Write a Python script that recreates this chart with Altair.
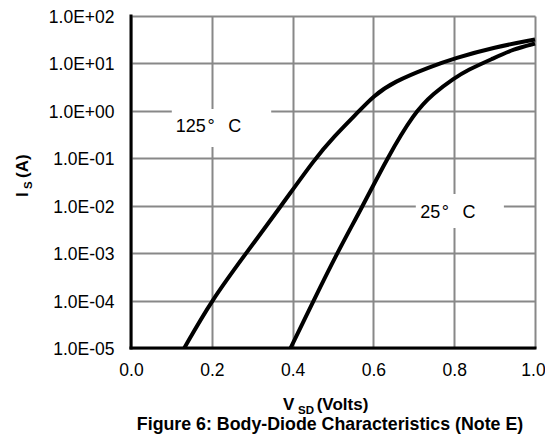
import altair as alt
import pandas as pd

# ---- data ----
v_125 = [0.132, 0.199, 0.285, 0.372, 0.456, 0.502, 0.56, 0.60, 0.65, 0.741, 0.80, 0.90, 1.00]
i_125 = [1e-5, 1e-4, 1e-3, 1e-2, 1e-1, 0.285, 0.9, 2.06, 4.1, 8.5, 12.8, 22.0, 32.0]
v_25 = [0.395, 0.452, 0.51, 0.574, 0.634, 0.70, 0.749, 0.80, 0.832, 0.898, 0.947, 1.00]
i_25 = [1e-5, 1e-4, 1e-3, 1e-2, 1e-1, 0.89, 2.35, 4.85, 7.2, 12.9, 20.0, 26.3]

x_ticks = [0.0, 0.2, 0.4, 0.6, 0.8, 1.0]
y_ticks = [1e-5, 1e-4, 1e-3, 1e-2, 1e-1, 1e0, 1e1, 1e2]

label_text = ["125\u200a°\u00a0\u00a0\u2009C", "25\u200a°\u00a0\u00a0\u2009C"]
label_x = [0.111, 0.716]
label_y = [0.364, 0.00543]
box_x = [0.101, 0.705]
box_x2 = [0.347, 0.923]
box_y = [0.173, 0.00339]
box_y2 = [1.09, 0.01766]

FONT = "Liberation Sans"

curves = pd.DataFrame({
    "v": v_125 + v_25,
    "i": i_125 + i_25,
    "s": ["125"] * len(v_125) + ["25"] * len(v_25),
})
labels = pd.DataFrame({"t": label_text, "x": label_x, "y": label_y,
                       "bx": box_x, "bx2": box_x2, "by": box_y, "by2": box_y2})
one = pd.DataFrame({"a": [0]})

xscale = alt.Scale(domain=[0, 1], nice=False, zero=False)
yscale = alt.Scale(type="log", domain=[1e-5, 100], nice=False)

exp = "round(log(datum.value)/LN10)"
ylabel = ("'1.0E' + (" + exp + " >= 0 ? '+' : '-') + (abs(" + exp + ") < 10 ? '0' : '') + abs(" + exp + ")")

xaxis = alt.Axis(values=x_ticks, format=".1f", title=None, domain=False, ticks=False,
                 grid=True, gridColor="#888888", gridWidth=2, labelFont=FONT,
                 labelFontSize=17.5, labelColor="black", labelPadding=13, labelFlush=False,
                 labelOffset={"condition": {"test": "datum.value == 1", "value": -2}, "value": 0})
yaxis = alt.Axis(values=y_ticks, labelExpr=ylabel, title=None, domain=False, ticks=False,
                 grid=True, gridColor="#888888", gridWidth=2, labelFont=FONT,
                 labelFontSize=17.5, labelColor="black", labelPadding=17, labelOffset=1.5)

base = alt.Chart(curves).mark_line(opacity=0).encode(
    x=alt.X("v:Q", scale=xscale, axis=xaxis),
    y=alt.Y("i:Q", scale=yscale, axis=yaxis),
)

boxes = alt.Chart(labels).mark_rect(color="white").encode(
    x="bx:Q", x2="bx2", y="by:Q", y2="by2")

left_rule = alt.Chart(one).mark_rule(color="black", strokeWidth=3, strokeCap="square").encode(
    x=alt.datum(0.0), y=alt.datum(1e-5), y2=alt.datum(100.0))
bottom_rule = alt.Chart(one).mark_rule(color="black", strokeWidth=3, strokeCap="square").encode(
    y=alt.datum(1e-5), x=alt.datum(0.0), x2=alt.datum(1.0))

lines = alt.Chart(curves).mark_line(color="black", strokeWidth=4, interpolate="basis").encode(
    x="v:Q", y="i:Q", detail="s:N")

texts = alt.Chart(labels).mark_text(align="left", baseline="alphabetic", font=FONT,
                                    fontSize=18, color="black").encode(
    x="x:Q", y="y:Q", text="t:N")


def txt(s, px, py, size, angle=0, align="left", bold=True):
    props = dict(text=s, align=align, baseline="alphabetic", font=FONT, fontSize=size,
                 color="black", fontWeight="bold" if bold else "normal")
    if angle:
        props["angle"] = angle
    return alt.Chart(one).mark_text(**props).encode(x=alt.value(px), y=alt.value(py))


titles = [
    txt("V", 152.0, 393.5, 17),
    txt("SD", 167.0, 397.5, 11.5),
    txt("(Volts)", 185.7, 393.5, 17),
    txt("Figure 6: Body-Diode Characteristics (Note E)", 199, 414, 17.8, align="center"),
    txt("I", -103.3, 181, 17, angle=270),
    txt("S", -98.7, 173, 11.5, angle=270),
    txt("(A)", -103.3, 162, 17, angle=270),
]

chart = alt.layer(base, boxes, left_rule, bottom_rule, lines, texts, *titles).properties(
    width=404, height=332,
    padding={"left": 123, "top": 8, "right": 10, "bottom": 88},
    autosize=alt.AutoSizeParams(type="none"),
).configure_view(stroke=None)

chart.save("out.html", embed_options={"renderer": "svg", "actions": False})
